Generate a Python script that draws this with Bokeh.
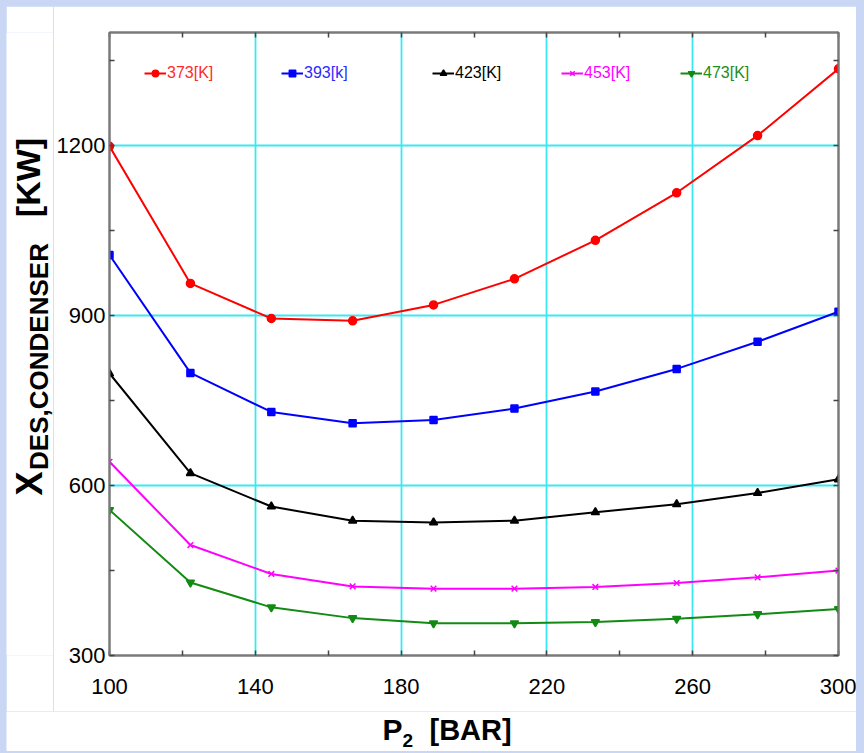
import math
from bokeh.plotting import figure
from bokeh.layouts import row, column
from bokeh.models import FixedTicker, LinearAxis, Legend, LegendItem, Label
from bokeh.embed import file_html
from bokeh.resources import INLINE

# ---------------- data ----------------
p2_bar = [100, 122.2, 144.4, 166.7, 188.9, 211.1, 233.3, 255.6, 277.8, 300]
x_373 = [1199, 957, 895, 891, 919, 965, 1033, 1117, 1218, 1336]
x_393 = [1007, 799, 730, 710, 716, 736, 766, 806, 854, 907]
x_423 = [798, 622, 563, 538, 535, 538, 553, 567, 587, 611]
x_453 = [642, 495, 444, 422, 418, 418, 421, 428, 438, 450]
x_473 = [557, 429, 385, 366, 357, 357, 359, 365, 373, 382]
series_labels = ["373[K]", "393[k]", "423[K]", "453[K]", "473[K]"]
x_major = [100, 140, 180, 220, 260, 300]
x_minor = [120, 160, 200, 240, 280]
y_major = [300, 600, 900, 1200]
y_minor = [450, 750, 1050, 1350]

FONT = "Liberation Sans"

# ---------------- main chart ----------------
p = figure(width=803, height=705, output_backend="svg", toolbar_location=None,
           x_range=(100, 300), y_range=(300, 1400),
           min_border_left=56, min_border_right=18, min_border_top=26, min_border_bottom=56,
           background_fill_color="white", border_fill_color="white")
p.outline_line_color = "#7a7a7a"
p.outline_line_width = 2

xa = p.xaxis[0]
ya = p.yaxis[0]
xa.ticker = FixedTicker(ticks=x_major, minor_ticks=x_minor)
ya.ticker = FixedTicker(ticks=y_major, minor_ticks=y_minor)

top = LinearAxis(ticker=FixedTicker(ticks=x_major, minor_ticks=x_minor))
right = LinearAxis(ticker=FixedTicker(ticks=y_major, minor_ticks=y_minor))
p.add_layout(top, "above")
p.add_layout(right, "right")

for ax in (xa, ya, top, right):
    ax.axis_line_color = "#7a7a7a"
    ax.axis_line_width = 2
    ax.major_tick_in = 5
    ax.major_tick_out = 0
    ax.minor_tick_in = 5
    ax.minor_tick_out = 0
    ax.major_tick_line_color = "#444444"
    ax.minor_tick_line_color = "#444444"
    ax.major_tick_line_width = 1.5
    ax.minor_tick_line_width = 1.5
    ax.axis_label = None
for ax in (xa, ya):
    ax.major_label_text_font = FONT
    ax.major_label_text_font_size = "22px"
    ax.major_label_text_color = "black"
xa.major_label_standoff = 23
ya.major_label_standoff = 4
for ax in (top, right):
    ax.major_label_text_color = None
    ax.major_label_text_font_size = "1px"
    ax.major_label_standoff = 0

p.xgrid.ticker = FixedTicker(ticks=[140, 180, 220, 260])
p.ygrid.ticker = FixedTicker(ticks=[600, 900, 1200])
for g in (p.xgrid[0], p.ygrid[0]):
    g.grid_line_color = "#3ae8f2"
    g.grid_line_width = 1.8

series = [
    (x_373, "#ff0000", "circle", 8, "#ff2a2a"),
    (x_393, "#0000ff", "square", 7, "#2a2aff"),
    (x_423, "#000000", "triangle", 8, "#000000"),
    (x_453, "#ff00ff", "x", 8, "#ff00ff"),
    (x_473, "#138a13", "inverted_triangle", 8, "#238b23"),
]
legend_pos = [(35, 573), (172, 573), (323, 573), (452, 573), (571, 573)]

for (vals, col, mk, sz, tcol), lab, pos in zip(series, series_labels, legend_pos):
    r = p.line(p2_bar, vals, line_color=col, line_width=2)
    s = p.scatter(p2_bar, vals, marker=mk, size=sz, fill_color=col, line_color=col, line_width=1.5)
    leg = Legend(items=[LegendItem(label=lab, renderers=[r, s])], location=pos,
                 orientation="horizontal", border_line_color=None,
                 background_fill_alpha=0, padding=0, margin=0, spacing=0,
                 glyph_width=22, glyph_height=16, label_standoff=1, label_height=18,
                 label_text_font=FONT, label_text_font_size="16px",
                 label_text_color=tcol)
    p.add_layout(leg)

# ---------------- y-axis title strip (left; its frame aligns with the chart frame) ----------------
ly = figure(width=47, height=705, output_backend="svg", toolbar_location=None,
            x_axis_type=None, y_axis_type=None, x_range=(0, 1), y_range=(0, 1),
            min_border=0, background_fill_color="white", border_fill_color="white")
ly.outline_line_color = None
ly.grid.visible = False
# centre of each text (across, along) relative to the strip frame's bottom-left
ytitle = [("X", 23, 172, "36px"), ("DES,CONDENSER", 32, 299, "26px"), ("[KW]", 21, 478, "34px")]
for txt, xx, yy, fs in ytitle:
    ly.add_layout(Label(x=xx, y=yy, x_units="screen", y_units="screen", text=txt,
                        angle=math.pi / 2, text_align="center", text_baseline="middle",
                        text_font=FONT, text_font_style="bold", text_font_size=fs,
                        text_color="black"))

# ---------------- x-axis title strip (bottom) ----------------
bx = figure(width=850, height=40, output_backend="svg", toolbar_location=None,
            x_axis_type=None, y_axis_type=None, x_range=(0, 1), y_range=(0, 1),
            min_border=0, background_fill_color="white", border_fill_color="white")
bx.outline_line_color = None
bx.grid.visible = False
xtitle = [("P", 376, 22, "30px"), ("2", 396, 11, "19px"), ("[BAR]", 423, 22, "29px")]
for txt, xx, yy, fs in xtitle:
    bx.add_layout(Label(x=xx, y=yy, x_units="screen", y_units="screen", text=txt,
                        text_align="left", text_baseline="middle",
                        text_font=FONT, text_font_style="bold", text_font_size=fs,
                        text_color="black"))

layout = column(row(ly, p), bx)

html = file_html(layout, INLINE)
html = html.replace("</head>",
                    "<style>body{background:#c9d7f4;padding:6px 0 0 6px !important;}</style></head>", 1)
open("out.html", "w").write(html)
